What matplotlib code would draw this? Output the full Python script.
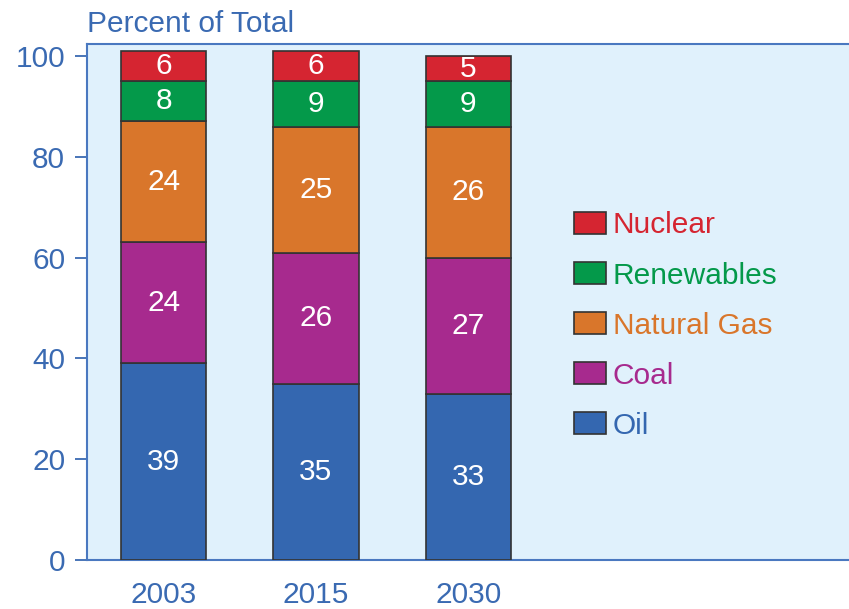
import numpy as np
import matplotlib.pyplot as plt
from matplotlib.patches import Patch

# Energy mix by year, percent of total
years = ['2003', '2015', '2030']
sources = ['Oil', 'Coal', 'Natural Gas', 'Renewables', 'Nuclear']
oil = [39, 35, 33]
coal = [24, 26, 27]
natural_gas = [24, 25, 26]
renewables = [8, 9, 9]
nuclear = [6, 6, 5]

colors = ['#3467b0', '#a72a8e', '#d9762b', '#04994a', '#d52531']
blue_text = '#3a6ab2'
plt.rcParams['font.family'] = ['Liberation Sans', 'DejaVu Sans']
fs = 21.5

fig = plt.figure(figsize=(8.49, 6.09), dpi=100)
ax = fig.add_axes([0.103, 0.0805, 0.897, 0.8475])
ax.set_facecolor('#e0f1fc')

x = np.arange(len(years))
bottom = np.zeros(len(years))
for values, color in zip([oil, coal, natural_gas, renewables, nuclear], colors):
    bars = ax.bar(x, values, width=0.56, bottom=bottom, color=color,
                  edgecolor='#333333', linewidth=1.2, zorder=3)
    ax.bar_label(bars, labels=[str(v) for v in values], label_type='center',
                 color='white', fontsize=fs)
    bottom += np.array(values)

ax.set_xlim(-0.5, 4.5)
ax.set_ylim(0, 102.4)
ax.set_yticks([0, 20, 40, 60, 80, 100])
ax.set_xticks(x)
ax.set_xticklabels(years)

for side in ['left', 'top', 'bottom']:
    ax.spines[side].set_color('#4a78c0')
    ax.spines[side].set_linewidth(1.5)
ax.spines['right'].set_visible(False)
ax.tick_params(axis='y', colors=blue_text, labelsize=fs, length=9, width=1.3, pad=7)
ax.tick_params(axis='x', colors=blue_text, labelsize=fs, length=0, pad=15)

# Legend, top entry first
handles = [Patch(facecolor=c, edgecolor='#333333', linewidth=1.2) for c in colors][::-1]
leg = ax.legend(handles, sources[::-1], loc='center left', bbox_to_anchor=(0.604, 0.454),
                frameon=False, fontsize=fs, handlelength=1.05, handleheight=0.75,
                handletextpad=0.23, labelspacing=0.74)
for text, c in zip(leg.get_texts(), colors[::-1]):
    text.set_color(c)

fig.text(0.103, 0.947, 'Percent of Total', color=blue_text, fontsize=fs, ha='left', va='baseline')

fig.savefig('out.png', dpi=100)
